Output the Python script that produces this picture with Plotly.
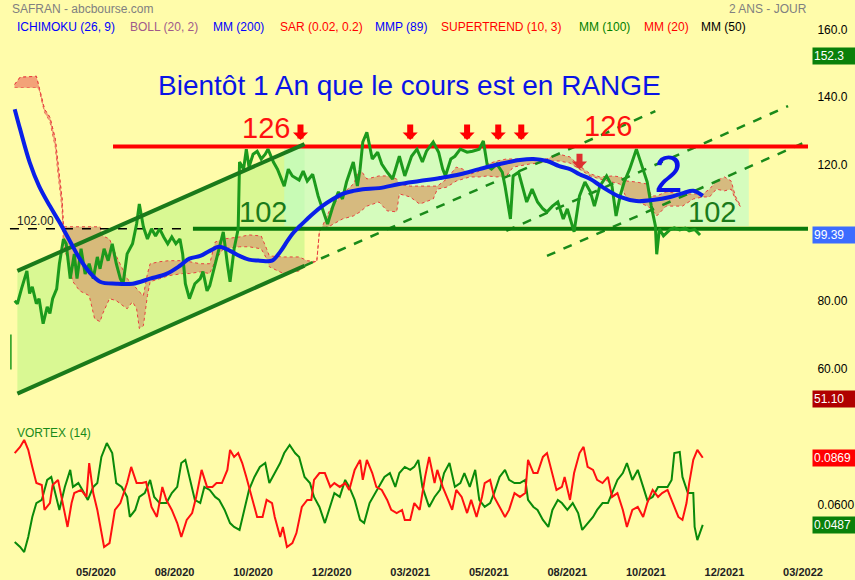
import plotly.graph_objects as go

BG = "#fffcaa"
FONT = "Liberation Sans, Arial, sans-serif"

# ---------------- DATA (x = trading-session index) ----------------
price = [(0,80.0),(2,79.1),(5,83.5),(9,88.8),(11,82.1),(13,84.1),(16,79.1),(18,80.6),(21,73.2),(24,78.2),
         (26,76.2),(28,80.6),(31,83.5),(33,90.9),(36,98.2),(38,96.8),(41,86.5),(44,93.8),(46,86.5),(49,95.3),
         (52,87.9),(55,90.9),(58,86.5),(61,92.9),(63,89.4),(66,95.3),(69,91.8),(72,96.8),(75,90.9),(78,86.5),
         (80,85.0),(83,93.8),(87,96.8),(90,102.6),(92,108.5),(95,101.8),(98,98.2),(101,101.2),(104,99.1),(107,101.2),
         (110,98.8),(113,96.8),(116,98.8),(119,96.8),(122,98.2),(124,93.8),(126,85.0),(129,80.6),(133,85.0),(137,86.5),
         (139,88.6),(142,82.9),(144,84.4),(148,90.9),(150,93.8),(154,100.3),(157,90.9),(159,85.6),(162,95.3),(165,101.2),
         (166,120.9),(169,118.8),(171,124.7),(173,119.4),(176,123.2),(179,124.1),(182,121.8),(185,123.2),(187,124.7),(191,120.9),
         (194,118.8),(196,116.8),(199,113.8),(202,118.8),(205,116.8),(210,115.6),(213,118.2),(216,115.3),(220,117.3),(224,110.9),
         (227,107.1),(231,102.6),(235,107.9),(239,112.1),(242,110.0),(245,115.0),(250,120.9),(253,113.8),(255,118.8),(257,126.8),
         (260,129.7),(264,121.8),(268,123.8),(271,120.3),(275,117.9),(279,115.9),(284,122.6),(288,116.8),(293,122.6),(297,124.7),
         (301,120.9),(304,124.1),(309,126.8),(313,123.8),(316,118.8),(318,116.8),(322,121.8),(325,122.6),(329,124.7),(334,123.8),
         (338,124.1),(343,124.7),(346,127.1),(349,119.7),(352,118.8),(356,120.3),(360,117.9),(362,113.8),(366,104.1),(368,116.8),
         (372,117.9),(375,113.8),(378,109.1),(382,112.9),(386,109.1),(390,107.1),(393,106.2),(397,107.9),(401,109.1),(405,104.1),
         (408,107.1),(413,100.3),(417,110.9),(421,115.0),(425,112.1),(428,107.9),(432,113.8),(437,116.8),(441,113.8),(444,105.0),
         (447,110.9),(450,115.0),(454,118.8),(459,124.7),(463,119.7),(467,115.0),(470,107.9),(473,102.1),(474,93.7),(476,101.2),
         (479,99.1),(484,101.0),(487,101.5),(491,100.9),(495,101.4),(498,100.6),(502,101.0),(506,99.39)]

mm200 = [(0,136.5),(4,130.6),(11,120.9),(18,113.8),(26,107.9),(33,103.2),(41,97.4),(48,92.4),(55,88.5),(63,85.6),
         (75,85.0),(87,85.0),(100,86.5),(112,87.9),(122,90.3),(129,92.4),(137,93.2),(144,94.7),(151,95.9),(159,94.7),
         (166,93.2),(173,92.1),(181,91.8),(190,91.8),(196,94.4),(201,97.4),(205,99.7),(210,101.8),(216,104.1),(220,105.6),
         (227,107.9),(235,110.0),(242,111.5),(250,112.4),(257,112.9),(269,113.2),(284,114.4),(299,115.3),(314,116.2),(329,117.3),
         (343,118.8),(358,120.3),(373,121.5),(383,121.8),(393,121.2),(402,119.7),(410,118.8),(417,117.3),(425,115.9),(434,113.5),
         (447,110.6),(459,109.4),(471,109.7),(484,110.6),(494,111.8),(501,112.4),(508,110.9)]

# ichimoku cloud: (session, upper span, lower span)
cloud = [(0,143.8,142.9),(4,145.9,142.9),(16,146.2,142.9),(18,142.9,142.4),(22,136.5,135.6),(26,134.1,132.9),
         (30,127.6,125.3),(32,120.3,117.4),(35,110.0,107.1),(36,101.8,96.8),(43,101.8,85.6),(48,101.8,82.9),
         (55,101.8,81.5),(59,101.8,74.7),(63,101.8,73.8),(65,99.1,76.2),(70,98.2,80.6),(75,93.2,80.0),(80,88.8,78.5),
         (83,86.5,77.6),(87,85.0,79.7),(90,83.5,77.6),(92,82.6,71.8),(95,81.5,72.6),(98,87.9,81.5),(100,90.9,85.6),
         (107,91.5,86.5),(114,91.8,87.4),(124,91.8,88.0),(129,91.5,88.0),(137,90.9,88.5),(144,90.9,88.0),(148,97.3,91.8),
         (154,98.2,95.3),(166,98.8,95.9),(173,99.4,95.9),(182,99.1,95.3),(186,95.3,92.4),(188,93.2,90.0),(199,92.9,87.9),
         (210,92.9,88.8),(216,91.8,90.9),(223,91.5,91.5),(225,100.6,100.6),(227,101.8,101.2),(233,107.1,102.1),
         (242,111.5,104.1),(250,114.4,105.0),(255,118.8,106.2),(260,115.9,107.9),(269,116.8,109.1),(275,116.8,106.5),
         (282,115.9,106.2),(284,114.4,111.5),(292,113.8,110.6),(299,113.8,108.5),(309,113.8,110.0),(312,113.8,112.9),
         (319,115.9,113.5),(326,119.4,115.3),(331,118.8,115.9),(336,117.3,116.5),(343,118.2,116.5),(349,120.3,116.8),
         (356,121.2,116.5),(363,121.8,116.8),(368,121.8,119.4),(380,121.8,120.3),(393,121.8,120.9),(397,122.6,121.2),
         (402,123.2,121.2),(410,122.4,120.6),(417,119.7,118.8),(425,117.4,116.8),(432,116.5,115.9),(442,116.8,115.0),
         (447,116.5,114.4),(452,115.3,110.0),(459,115.0,109.4),(467,114.4,107.9),(470,110.9,107.1),(474,110.9,105.0),
         (481,112.1,107.9),(493,111.5,107.9),(501,111.5,110.0),(508,111.5,110.6),(513,112.9,110.6),(518,115.3,112.9),
         (524,116.5,112.4),(529,115.3,112.9),(532,110.9,110.0),(536,107.9,107.6)]

vortex_minus = [(0,0.0896),(4,0.0931),(7,0.0971),(10,0.0914),(13,0.0817),(16,0.0725),(20,0.0714),(22,0.0572),(26,0.0611),
    (28,0.0714),(32,0.0743),(36,0.0589),(39,0.0475),(42,0.0611),(44,0.0668),(49,0.0686),(53,0.0646),(55,0.0839),(58,0.0668),
    (61,0.0572),(64,0.0458),(66,0.0361),(70,0.0383),(74,0.0572),(78,0.0611),(83,0.0725),(86,0.0817),(90,0.0725),(94,0.0725),
    (97,0.0731),(101,0.0589),(105,0.0532),(109,0.0703),(112,0.0628),(116,0.0572),(120,0.0497),(123,0.0418),(127,0.0515),
    (131,0.0554),(134,0.0646),(138,0.0800),(142,0.0703),(146,0.0703),(149,0.0725),(153,0.0725),(157,0.0800),(159,0.0914),
    (162,0.0874),(165,0.0896),(168,0.0839),(171,0.0760),(175,0.0646),(179,0.0532),(183,0.0532),(186,0.0629),(190,0.0611),
    (192,0.0532),(196,0.0418),(198,0.0475),(201,0.0361),(205,0.0383),(208,0.0440),(212,0.0589),(216,0.0629),(219,0.0629),
    (221,0.0743),(225,0.0782),(229,0.0782),(233,0.0703),(236,0.0725),(240,0.0703),(244,0.0725),(247,0.0686),(251,0.0800),
    (255,0.0857),(257,0.0743),(260,0.0857),(264,0.0782),(267,0.0703),(271,0.0686),(275,0.0629),(278,0.0572),(282,0.0554),
    (286,0.0572),(288,0.0515),(292,0.0515),(295,0.0611),(299,0.0572),(303,0.0760),(306,0.0874),(310,0.0725),(312,0.0800),
    (316,0.0703),(320,0.0629),(323,0.0572),(326,0.0686),(330,0.0646),(334,0.0554),(337,0.0629),(341,0.0532),(345,0.0646),
    (347,0.0725),(351,0.0743),(354,0.0646),(358,0.0589),(362,0.0532),(365,0.0572),(369,0.0668),(373,0.0646),(377,0.0668),
    (379,0.0857),(383,0.0782),(386,0.0782),(390,0.0874),(393,0.0896),(397,0.0782),(400,0.0686),(404,0.0703),(406,0.0760),
    (410,0.0629),(413,0.0782),(417,0.0896),(420,0.0931),(423,0.0817),(427,0.0800),(430,0.0743),(434,0.0725),(438,0.0760),
    (441,0.0646),(445,0.0668),(449,0.0572),(452,0.0475),(456,0.0572),(460,0.0589),(464,0.0532),(467,0.0611),(471,0.0686),
    (475,0.0646),(478,0.0668),(482,0.0686),(486,0.0611),(490,0.0532),(493,0.0515),(496,0.0611),(498,0.0725),(501,0.0857),
    (504,0.0914),(508,0.0869)]

vortex_plus = [(0,0.0389),(4,0.0361),(7,0.0332),(10,0.0418),(13,0.0532),(16,0.0611),(20,0.0629),(24,0.0743),(27,0.0760),
    (31,0.0629),(33,0.0572),(37,0.0703),(41,0.0800),(43,0.0703),(47,0.0725),(50,0.0686),(54,0.0629),(58,0.0703),(61,0.0725),
    (64,0.0874),(68,0.0953),(72,0.0896),(75,0.0725),(79,0.0703),(83,0.0646),(85,0.0532),(89,0.0572),(92,0.0646),(96,0.0668),
    (100,0.0743),(103,0.0646),(107,0.0611),(112,0.0611),(116,0.0668),(120,0.0703),(123,0.0839),(126,0.0857),(129,0.0760),
    (133,0.0629),(137,0.0611),(140,0.0703),(144,0.0686),(148,0.0646),(151,0.0629),(155,0.0572),(159,0.0497),(162,0.0475),
    (166,0.0458),(170,0.0589),(173,0.0686),(177,0.0760),(181,0.0817),(185,0.0839),(188,0.0725),(192,0.0782),(196,0.0839),
    (199,0.0896),(203,0.0942),(207,0.0896),(210,0.0874),(214,0.0760),(218,0.0725),(221,0.0646),(225,0.0589),(229,0.0497),
    (233,0.0589),(236,0.0668),(240,0.0646),(244,0.0743),(247,0.0703),(251,0.0629),(255,0.0515),(258,0.0497),(262,0.0611),
    (266,0.0668),(269,0.0703),(273,0.0760),(277,0.0782),(281,0.0703),(284,0.0782),(288,0.0817),(292,0.0800),(295,0.0817),
    (298,0.0857),(301,0.0703),(305,0.0611),(306,0.0589),(310,0.0646),(314,0.0686),(317,0.0782),(321,0.0839),(325,0.0703),
    (329,0.0725),(332,0.0782),(336,0.0703),(340,0.0800),(343,0.0629),(347,0.0589),(351,0.0611),(354,0.0668),(358,0.0760),
    (362,0.0800),(365,0.0743),(369,0.0725),(373,0.0725),(377,0.0743),(379,0.0629),(383,0.0589),(386,0.0572),(390,0.0515),
    (394,0.0475),(397,0.0572),(401,0.0629),(404,0.0611),(408,0.0572),(412,0.0611),(416,0.0554),(419,0.0458),(423,0.0497),
    (427,0.0532),(430,0.0572),(434,0.0611),(438,0.0611),(441,0.0668),(445,0.0743),(449,0.0782),(452,0.0839),(456,0.0743),
    (460,0.0800),(464,0.0703),(467,0.0629),(471,0.0646),(475,0.0703),(478,0.0703),(482,0.0703),(485,0.0743),(487,0.0896),
    (491,0.0902),(493,0.0760),(497,0.0668),(501,0.0668),(502,0.0475),(504,0.0400),(508,0.0487)]

# drawn trend lines (session, price)
channel_up = [(2, 88.8), (214, 126.2)]
channel_dn = [(2, 52.6), (214, 90.3)]
trend_a = [(214, 90.3), (473, 135.9)]
trend_b = [(363, 100.6), (571, 137.4)]
trend_c = [(393, 93.2), (585, 127.0)]
resistance = 125.5
support = 101.2
range_box = [(199, 102.0), (542, 125.0)]
sell_arrows = [211, 292, 334, 357, 374]
late_arrow = 417

tick_pos = [60, 118, 176, 234, 292, 350, 408, 466, 524, 582]
tick_txt = ["05/2020", "08/2020", "10/2020", "12/2020", "03/2021", "05/2021",
            "08/2021", "10/2021", "12/2021", "03/2022"]
price_ticks = [60, 80, 100, 120, 140, 160]
price_tick_txt = ["60.00", "80.00", "100.0", "120.0", "140.0", "160.0"]

XR = [-10.85, 585.7]


def xs(pts):
    return [p[0] for p in pts]


def ys(pts, i=1):
    return [p[i] for p in pts]


fig = go.Figure()

# channel fill (parallelogram)
fig.add_trace(go.Scatter(
    x=[channel_up[0][0], channel_up[1][0], channel_dn[1][0], channel_dn[0][0], channel_up[0][0]],
    y=[channel_up[0][1], channel_up[1][1], channel_dn[1][1], channel_dn[0][1], channel_up[0][1]],
    fill="toself", fillcolor="rgba(170,245,120,0.45)", line=dict(width=0), mode="lines", hoverinfo="skip"))

# range rectangle
(bx0, by0), (bx1, by1) = range_box
fig.add_trace(go.Scatter(x=[bx0, bx1, bx1, bx0, bx0], y=[by0, by0, by1, by1, by0],
                         fill="toself", fillcolor="rgba(190,252,200,0.65)", line=dict(width=0),
                         mode="lines", hoverinfo="skip"))

# ichimoku cloud
cd = xs(cloud)
fig.add_trace(go.Scatter(x=cd, y=ys(cloud, 2), mode="lines",
                         line=dict(color="#e84040", width=1, dash="dot"), hoverinfo="skip"))
fig.add_trace(go.Scatter(x=cd, y=ys(cloud, 1), mode="lines", fill="tonexty",
                         fillcolor="rgba(214,178,120,0.9)",
                         line=dict(color="#e84040", width=1, dash="dot"), hoverinfo="skip"))
early = [c for c in cloud if c[0] <= 36]
fig.add_trace(go.Scatter(x=xs(early), y=ys(early, 2), mode="lines", line=dict(width=0), hoverinfo="skip"))
fig.add_trace(go.Scatter(x=xs(early), y=ys(early, 1), mode="lines", fill="tonexty",
                         fillcolor="rgba(245,160,120,0.9)",
                         line=dict(color="#e84040", width=1, dash="dot"), hoverinfo="skip"))

# dashed extensions
for t in (trend_a, trend_b, trend_c):
    fig.add_trace(go.Scatter(x=xs(t), y=ys(t), mode="lines",
                             line=dict(color="#1a8a1a", width=2.5, dash="dash"), hoverinfo="skip"))

# horizontal lines
fig.add_trace(go.Scatter(x=[-3.5, 129], y=[support, support], mode="lines",
                         line=dict(color="black", width=1.5, dash="dash"), hoverinfo="skip"))
fig.add_trace(go.Scatter(x=[131.6, XR[1]], y=[support, support], mode="lines",
                         line=dict(color="#0a7a0a", width=4), hoverinfo="skip"))
fig.add_trace(go.Scatter(x=[72.6, XR[1]], y=[resistance, resistance], mode="lines",
                         line=dict(color="#ff0000", width=4), hoverinfo="skip"))

# price
fig.add_trace(go.Scatter(x=xs(price), y=ys(price), mode="lines",
                         line=dict(color="#1c9a1c", width=3), hoverinfo="skip"))
fig.add_trace(go.Scatter(x=[-2.8, -2.8], y=[70.0, 59.7], mode="lines",
                         line=dict(color="#1c9a1c", width=1.5), hoverinfo="skip"))

# channel lines
for t in (channel_up, channel_dn):
    fig.add_trace(go.Scatter(x=xs(t), y=ys(t), mode="lines",
                             line=dict(color="#1a7a1a", width=4), hoverinfo="skip"))

# moving average
fig.add_trace(go.Scatter(x=xs(mm200), y=ys(mm200), mode="lines",
                         line=dict(color="#0a1fe8", width=4, shape="spline"), hoverinfo="skip"))

# vortex
fig.add_trace(go.Scatter(x=xs(vortex_plus), y=ys(vortex_plus), mode="lines", xaxis="x2", yaxis="y2",
                         line=dict(color="#0a8a0a", width=2), hoverinfo="skip"))
fig.add_trace(go.Scatter(x=xs(vortex_minus), y=ys(vortex_minus), mode="lines", xaxis="x2", yaxis="y2",
                         line=dict(color="#ff1010", width=2), hoverinfo="skip"))

ann = []
for d in sell_arrows:
    ann.append(dict(x=d, y=127.4, xref="x", yref="y", ax=0, ay=-17, showarrow=True, text="",
                    arrowhead=1, arrowsize=0.42, arrowwidth=6, arrowcolor="#ff0000"))
ann.append(dict(x=late_arrow, y=118.8, xref="x", yref="y", ax=0, ay=-17, showarrow=True, text="",
                arrowhead=1, arrowsize=0.42, arrowwidth=6, arrowcolor="#dd3030"))

ann += [
    dict(x=291.8, y=143.6, text="Bientôt 1 An que le cours est en RANGE", showarrow=False,
         font=dict(family=FONT, size=28, color="#0a14e6")),
    dict(x=185.6, y=131.0, text="126", showarrow=False, font=dict(family=FONT, size=29, color="#ff1010")),
    dict(x=438, y=131.6, text="126", showarrow=False, font=dict(family=FONT, size=29, color="#ff1010")),
    dict(x=183.3, y=106.2, text="102", showarrow=False, font=dict(family=FONT, size=29, color="#1a7a1a")),
    dict(x=514.8, y=106.2, text="102", showarrow=False, font=dict(family=FONT, size=29, color="#1a7a1a")),
    dict(x=483, y=117.3, text="2", showarrow=False, font=dict(family=FONT, size=52, color="#0a14e6")),
    dict(x=0.5, y=101.2, text="102.00", showarrow=False, xanchor="left", yanchor="bottom", yshift=-1,
         font=dict(family=FONT, size=12, color="#222222")),
]

H = 558.0
W = 808.0


def px_x(X):
    return X / W


def px_y(Y):
    return (H - Y) / H


ann += [
    dict(x=px_x(10), y=px_y(9), xref="paper", yref="paper", text="SAFRAN - abcbourse.com", showarrow=False,
         xanchor="left", yanchor="middle", font=dict(family=FONT, size=12, color="#808080")),
    dict(x=px_x(809), y=px_y(9), xref="paper", yref="paper", text="2 ANS - JOUR", showarrow=False,
         xanchor="right", yanchor="middle", font=dict(family=FONT, size=12, color="#808080")),
    dict(x=px_x(15), y=px_y(433), xref="paper", yref="paper", text="VORTEX (14)", showarrow=False,
         xanchor="left", yanchor="middle", font=dict(family=FONT, size=12, color="#1a8a1a")),
]
legend_items = [("ICHIMOKU (26, 9)", 15, "#0000ff"), ("BOLL (20, 2)", 128, "#a05a8a"),
                ("MM (200)", 211, "#0000ff"), ("SAR (0.02, 0.2)", 278, "#ff0000"),
                ("MMP (89)", 373, "#0000ff"), ("SUPERTREND (10, 3)", 439, "#ff0000"),
                ("MM (100)", 577, "#008000"), ("MM (20)", 642, "#ff0000"), ("MM (50)", 699, "#000000")]
for txt, X, col in legend_items:
    ann.append(dict(x=px_x(X), y=px_y(27), xref="paper", yref="paper", text=txt, showarrow=False,
                    xanchor="left", yanchor="middle", font=dict(family=FONT, size=12, color=col)))

boxes = [(152.3, "152.3", "#0a800a", "y"), (99.39, "99.39", "#3c6cff", "y"), (51.10, "51.10", "#b00000", "y"),
         (0.0869, "0.0869", "#ff0000", "y2"), (0.0487, "0.0487", "#0a800a", "y2")]
for v, t, col, yr in boxes:
    ann.append(dict(x=1, y=v, xref="paper", yref=yr, text=t, showarrow=False, xanchor="left",
                    yanchor="middle", xshift=4, bgcolor=col, width=41, height=14, align="left", borderpad=1,
                    font=dict(family=FONT, size=12, color="white")))

fig.update_layout(
    width=855, height=580, margin=dict(l=0, r=47, t=0, b=22),
    paper_bgcolor=BG, plot_bgcolor=BG, showlegend=False,
    annotations=ann,
    xaxis=dict(range=XR, domain=[0, 1], anchor="y", showticklabels=False, showgrid=False,
               zeroline=False, showline=False),
    yaxis=dict(range=[44.8, 168.7], domain=[0.2473, 1.0], side="right", showgrid=False, zeroline=False,
               tickvals=price_ticks, ticktext=price_tick_txt, ticks="outside", ticklen=6, tickcolor=BG,
               tickfont=dict(family=FONT, size=12, color="black")),
    xaxis2=dict(range=XR, domain=[0, 1], anchor="y2", matches="x", showgrid=False, zeroline=False,
                tickvals=tick_pos, ticktext=tick_txt, ticks="outside", ticklen=4, tickcolor=BG,
                tickfont=dict(family=FONT, size=11, color="#222222", weight="bold")),
    yaxis2=dict(range=[0.0298, 0.1056], domain=[0, 0.2384], side="right", showgrid=False, zeroline=False,
                tickvals=[0.06], ticktext=["0.0600"], ticks="outside", ticklen=6, tickcolor=BG,
                tickfont=dict(family=FONT, size=12, color="black")),
)

# remove the browser's default 8px body margin so the 855x580 figure fills the window exactly
fig.write_html("out.html", config={"displayModeBar": False},
               post_script="document.body.style.margin='0px';")
